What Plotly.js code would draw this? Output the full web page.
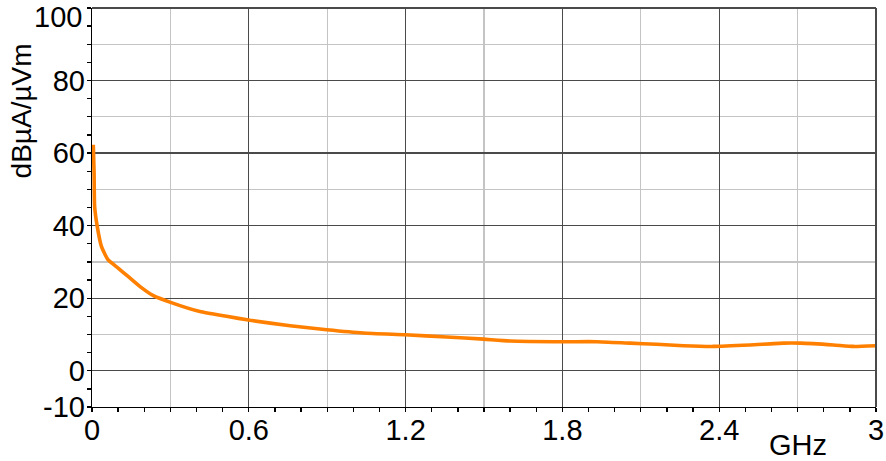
<!DOCTYPE html>
<html>
<head>
<meta charset="utf-8">
<script src="https://cdn.plot.ly/plotly-3.0.1.min.js"></script>
<style>html,body{margin:0;padding:0;background:#fff;}#chart{width:886px;height:461px;}</style>
</head>
<body>
<div id="chart"></div>
<script>
// Frequency (GHz)
const freqGHz = [0.005, 0.008, 0.010, 0.020, 0.036, 0.061, 0.100, 0.138, 0.184, 0.235, 0.298, 0.413, 0.515, 0.605, 0.758, 0.898, 1.038, 1.198, 1.357, 1.498, 1.600, 1.804, 1.931, 2.059, 2.160, 2.263, 2.378, 2.518, 2.646, 2.710, 2.837, 2.914, 3.0];
// Level (dBµA/µVm)
const level = [62.3, 54.6, 45.4, 39.8, 34.3, 30.6, 28.3, 26.0, 23.2, 20.7, 18.9, 16.3, 15.0, 13.9, 12.4, 11.3, 10.4, 9.9, 9.3, 8.7, 8.2, 8.0, 8.0, 7.6, 7.3, 6.9, 6.7, 7.1, 7.6, 7.6, 7.1, 6.7, 6.9];

const xTickVals = [0, 0.6, 1.2, 1.8, 2.4, 3];
const xTickText = ['0', '0.6', '1.2', '1.8', '2.4', '3'];
const xMinorGrid = [0.3, 0.9, 1.5, 2.1, 2.7];
const yTickVals = [-10, 0, 20, 40, 60, 80, 100];
const yTickText = ['-10', '0', '20', '40', '60', '80', '100'];
const yMinorGrid = [10, 30, 50, 70, 90];

const FONT = 'Liberation Sans, Arial, sans-serif';
const dark = '#4a4a4a';
const light = '#c4c4c4';

// top label drawn separately so it stays inside the picture
const lastY = yTickText.length - 1;
const yTickShown = yTickText.map((t, i) => (i === lastY ? '' : t));

const traces = [
  {x: freqGHz, y: level, type: 'scatter', mode: 'lines',
   line: {color: '#ff8000', width: 3.6, shape: 'spline', smoothing: 0.5}, showlegend: false, hoverinfo: 'skip'},
  {x: [0], y: [-10], xaxis: 'x2', yaxis: 'y2', type: 'scatter', mode: 'markers',
   marker: {opacity: 0}, showlegend: false, hoverinfo: 'skip'}
];

const layout = {
  width: 886, height: 461,
  margin: {l: 92, r: 10, t: 8, b: 54},
  paper_bgcolor: '#fff', plot_bgcolor: '#fff',
  font: {family: FONT, color: '#000', size: 29},
  showlegend: false,
  xaxis: {
    range: [0, 3], tickmode: 'array', tickvals: xTickVals, ticktext: xTickText,
    showgrid: true, gridcolor: dark, gridwidth: 1.3,
    minor: {tickmode: 'array', tickvals: xMinorGrid, showgrid: true, gridcolor: light, gridwidth: 1.3, ticks: ''},
    ticks: '', zeroline: false, ticklabeloverflow: 'allow', ticklabelstandoff: -3,
    showline: true, linecolor: '#000', linewidth: 1.3, mirror: false,
    tickfont: {family: FONT, size: 29, color: '#000'}
  },
  yaxis: {
    range: [-10, 100], tickmode: 'array', tickvals: yTickVals, ticktext: yTickShown,
    showgrid: true, gridcolor: dark, gridwidth: 1.3,
    minor: {tickmode: 'array', tickvals: yMinorGrid, showgrid: true, gridcolor: light, gridwidth: 1.3, ticks: ''},
    ticks: '', zeroline: false, ticklabeloverflow: 'allow',
    showline: true, linecolor: '#000', linewidth: 1.3,
    tickfont: {family: FONT, size: 29, color: '#000'}
  },
  xaxis2: {
    overlaying: 'x', anchor: 'y2', side: 'bottom', range: [0, 3], dtick: 0.1, tick0: 0,
    ticks: 'outside', ticklen: 4, tickwidth: 1.3, tickcolor: '#000',
    showticklabels: false, showgrid: false, zeroline: false, showline: false
  },
  yaxis2: {
    overlaying: 'y', anchor: 'x2', side: 'left', range: [-10, 100], dtick: 5, tick0: 0,
    ticks: 'outside', ticklen: 4, tickwidth: 1.3, tickcolor: '#000',
    showticklabels: false, showgrid: false, zeroline: false, showline: false
  },
  shapes: [
    {type: 'line', xref: 'paper', yref: 'paper', x0: 0, x1: 1, y0: 1, y1: 1, line: {color: dark, width: 2}},
    {type: 'line', xref: 'paper', yref: 'paper', x0: 1, x1: 1, y0: 0, y1: 1, line: {color: dark, width: 2}}
  ],
  annotations: [
    {text: yTickText[lastY], xref: 'paper', yref: 'y', x: 0, y: yTickVals[lastY], xanchor: 'right', yanchor: 'middle',
     xshift: -9, yshift: -9, borderpad: 0, showarrow: false, font: {family: FONT, size: 29, color: '#000'}},
    {text: 'dBµA/µVm', xref: 'paper', yref: 'y', x: 0, y: 71.5, xanchor: 'center', yanchor: 'middle',
     xshift: -71, textangle: -90, showarrow: false, font: {family: FONT, size: 28, color: '#000'}},
    {text: 'GHz', xref: 'x', yref: 'paper', x: 2.7, y: 0, xanchor: 'center', yanchor: 'top',
     yshift: -20, showarrow: false, font: {family: FONT, size: 29, color: '#000'}}
  ]
};

Plotly.newPlot('chart', traces, layout, {staticPlot: true, displayModeBar: false});
</script>
</body>
</html>
